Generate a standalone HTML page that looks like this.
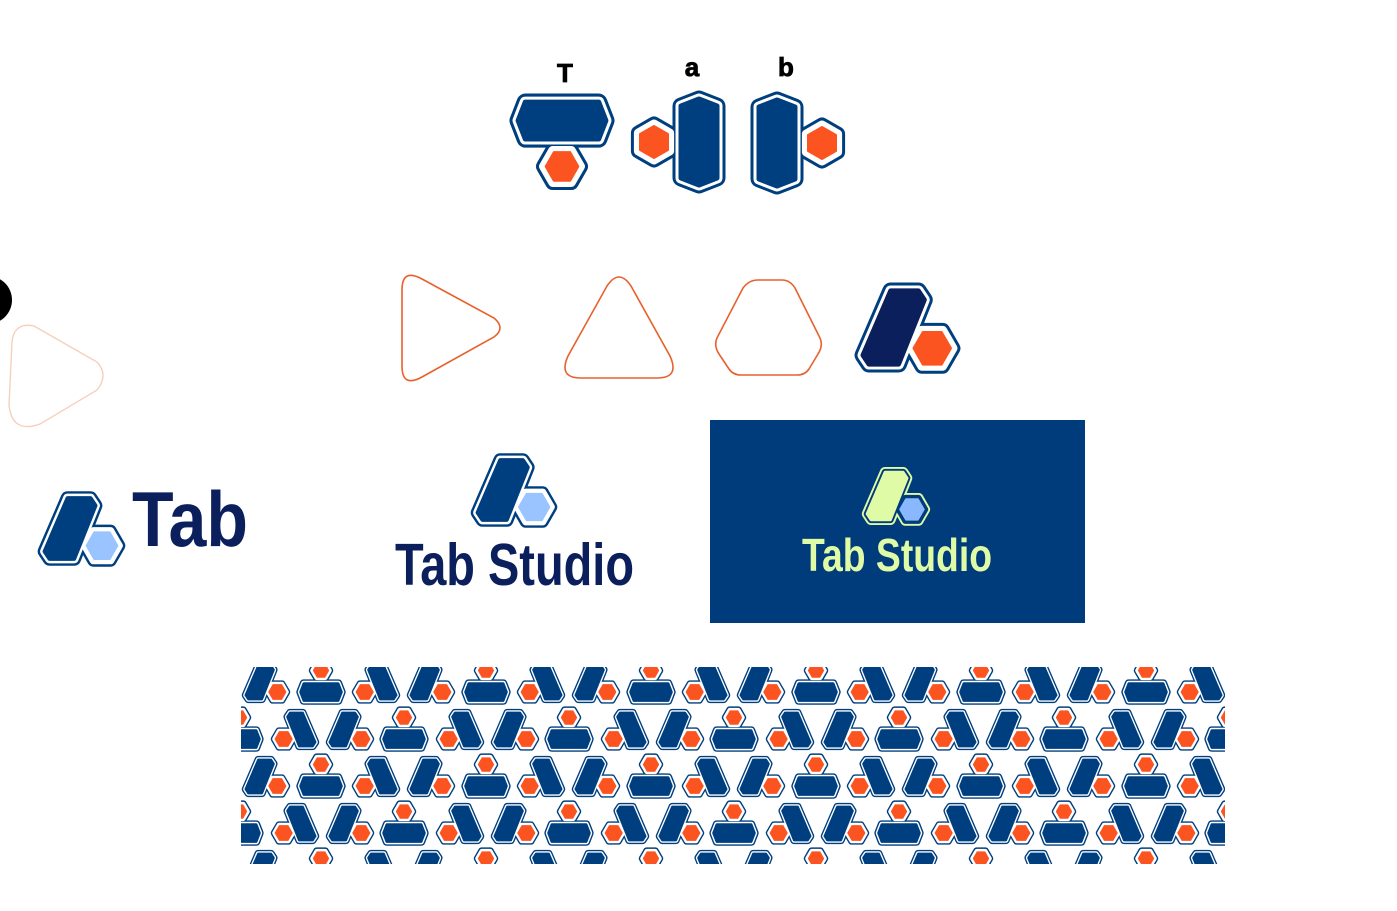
<!DOCTYPE html>
<html><head><meta charset="utf-8"><style>
html,body{margin:0;padding:0;background:#fff;width:1397px;height:911px;overflow:hidden}
svg{display:block}
text{font-family:"Liberation Sans",sans-serif;font-weight:bold}
</style></head><body>
<svg width="1397" height="911" viewBox="0 0 1397 911" xmlns="http://www.w3.org/2000/svg">
<defs>
<symbol id="mA" viewBox="0 0 106 94" overflow="visible">
  <g stroke-linejoin="round">
    <polygon points="36,10 64,10 70,19 44,84 14,84 8,75" fill="var(--o)" stroke="var(--o)" stroke-width="17"/>
    <polygon points="99,68 88.5,86.2 67.5,86.2 57,68 67.5,49.8 88.5,49.8" fill="var(--o)" stroke="var(--o)" stroke-width="15"/>
    <polygon points="36,10 64,10 70,19 44,84 14,84 8,75" fill="var(--g)" stroke="var(--g)" stroke-width="11"/>
    <polygon points="99,68 88.5,86.2 67.5,86.2 57,68 67.5,49.8 88.5,49.8" fill="var(--g)" stroke="var(--g)" stroke-width="9"/>
    <polygon points="36,10 64,10 70,19 44,84 14,84 8,75" fill="var(--b)" stroke="var(--b)" stroke-width="5"/>
    <polygon points="97,68 87.5,84.5 68.5,84.5 59,68 68.5,51.5 87.5,51.5" fill="var(--h)" stroke="var(--h)" stroke-width="2"/>
  </g>
</symbol>
<symbol id="mAm" viewBox="0 0 106 94" overflow="visible">
  <use href="#mA" width="106" height="94" transform="translate(106,0) scale(-1,1)"/>
</symbol>
<symbol id="mT" viewBox="0 0 100 96" overflow="visible">
  <g stroke-linejoin="round">
    <polygon points="14,9 86,9 93,27 86,45 14,45 7,27" fill="var(--o)" stroke="var(--o)" stroke-width="17"/>
    <polygon points="68,72 59,87.6 41,87.6 32,72 41,56.4 59,56.4" fill="var(--o)" stroke="var(--o)" stroke-width="15"/>
    <polygon points="14,9 86,9 93,27 86,45 14,45 7,27" fill="var(--g)" stroke="var(--g)" stroke-width="11"/>
    <polygon points="68,72 59,87.6 41,87.6 32,72 41,56.4 59,56.4" fill="var(--g)" stroke="var(--g)" stroke-width="9"/>
    <polygon points="14,9 86,9 93,27 86,45 14,45 7,27" fill="var(--b)" stroke="var(--b)" stroke-width="5"/>
    <polygon points="66,72 58,86 42,86 34,72 42,58 58,58" fill="var(--h)" stroke="var(--h)" stroke-width="2"/>
  </g>
</symbol>
<symbol id="mB" viewBox="0 0 100 96" overflow="visible">
  <use href="#mT" width="100" height="96" transform="translate(0,96) scale(1,-1)"/>
</symbol>
<pattern id="pat" patternUnits="userSpaceOnUse" x="0" y="0" width="165" height="94" style="--o:#003f7f;--g:#fff;--b:#003f7f;--h:#fc5421">
  <use href="#mA" x="77" y="3" width="48" height="43"/>
  <use href="#mA" x="-88" y="3" width="48" height="43"/>
  <use href="#mB" x="132" y="1" width="48" height="46"/>
  <use href="#mB" x="-33" y="1" width="48" height="46"/>
  <use href="#mAm" x="22" y="3" width="48" height="43"/>
  <use href="#mAm" x="187" y="3" width="48" height="43"/>
  <use href="#mB" x="50" y="48" width="48" height="46"/>
  <use href="#mAm" x="106" y="50" width="48" height="43"/>
  <use href="#mAm" x="-59" y="50" width="48" height="43"/>
  <use href="#mA" x="-4" y="50" width="48" height="43"/>
  <use href="#mA" x="161" y="50" width="48" height="43"/>
</pattern>
</defs>

<text x="565" y="82" font-size="26" text-anchor="middle" fill="#000" stroke="#000" stroke-width="0.8">T</text>
<text x="692" y="76" font-size="26" text-anchor="middle" fill="#000" stroke="#000" stroke-width="0.8">a</text>
<text x="786" y="76" font-size="26" text-anchor="middle" fill="#000" stroke="#000" stroke-width="0.8">b</text>
<g style="--o:#003f7f;--g:#fff;--b:#003f7f;--h:#fc5421">
  <use href="#mT" x="511" y="93" width="102" height="98"/>
  <use href="#mT" width="100" height="96" transform="translate(726,92) rotate(90)"/>
  <use href="#mT" width="100" height="96" transform="translate(750,193) rotate(-90)"/>
</g>

<circle cx="-12" cy="300" r="24" fill="#000"/>
<path d="M 12,342 Q 14,322 34,326 L 97,362 Q 109,375 97,390 L 40,424 Q 12,434 9,405 Z" fill="none" stroke="#f6cdb8" stroke-width="1.3"/>

<g fill="none" stroke="#e8602c" stroke-width="1.6">
  <path d="M 402,290 Q 402,268 422,279 L 494,318 Q 506,328 494,337 L 422,377 Q 402,388 402,366 Z"/>
  <path d="M 607,286 Q 619,268 631,286 L 670,356 Q 680,378 657,378 L 581,378 Q 558,378 568,356 Z"/>
  <path d="M 758,280 L 782,280 Q 790,280 795,288 L 819,336 Q 824,345 818,354 L 809,369 Q 805,375 797,375 L 741,375 Q 733,375 729,369 L 719,354 Q 713,345 718,336 L 743,288 Q 749,280 758,280 Z"/>
</g>
<use href="#mA" x="855" y="281" width="105" height="93" style="--o:#003f7f;--g:#fff;--b:#0b1f5c;--h:#fc5421"/>

<use href="#mA" x="38" y="490" width="87" height="77" style="--o:#003f7f;--g:#fff;--b:#003f7f;--h:#99c4ff"/>
<text x="132" y="546" font-size="78" fill="#0b1f5c" textLength="116" lengthAdjust="spacingAndGlyphs">Tab</text>

<use href="#mA" x="470" y="452" width="88" height="76" style="--o:#003f7f;--g:#fff;--b:#003f7f;--h:#99c4ff"/>
<text x="395" y="585" font-size="59" fill="#0b1f5c" textLength="239" lengthAdjust="spacingAndGlyphs">Tab Studio</text>

<rect x="710" y="420" width="375" height="203" fill="#003c7c"/>
<use href="#mA" x="862" y="466" width="68" height="60" style="--o:#e0fba5;--g:#003c7c;--b:#e0fba5;--h:#8ab8ff"/>
<text x="802" y="571" font-size="46" fill="#e0fba5" textLength="190" lengthAdjust="spacingAndGlyphs">Tab Studio</text>

<rect x="241" y="667" width="984" height="197" fill="url(#pat)"/>
</svg>
</body></html>
